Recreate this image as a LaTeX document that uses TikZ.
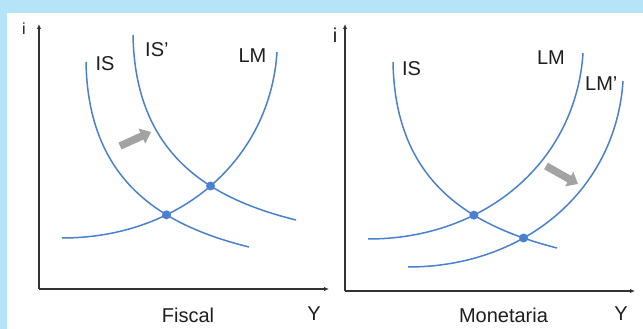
\documentclass[tikz,border=0pt]{standalone}
\usepackage{fontspec}
\setmainfont{Liberation Sans}
\usetikzlibrary{arrows.meta,intersections}
\definecolor{bgblue}{HTML}{B5E3F8}
\definecolor{curveblue}{HTML}{4A80D0}
\definecolor{axisgray}{HTML}{333333}
\definecolor{txt}{HTML}{1E1E1E}
\definecolor{shiftgray}{HTML}{A3A3A3}
\begin{document}
\begin{tikzpicture}[x=1pt,y=-1pt,
  curve/.style={draw=curveblue,line width=1.5pt},
  axis/.style={draw=axisgray,line width=1.5pt,-{Latex[length=5pt,width=4.5pt]}},
  lbl/.style={font=\fontsize{20}{22}\selectfont,text=txt,inner sep=0pt,anchor=base},
  lblw/.style={font=\fontsize{20}{22}\selectfont,text=txt,inner sep=0pt,anchor=base west},
  shiftarrow/.style={draw=shiftgray,line width=7.5pt,-{Triangle[width=16pt,length=10pt]}},
  eqdot/.style={fill=curveblue}]
\useasboundingbox (0,0) rectangle (643,329);
\fill[bgblue] (0,0) rectangle (643,329);
\fill[white] (7,13) rectangle (643,329);

% ---------- left panel: Fiscal ----------
\coordinate (oL) at (39,289);
\coordinate (iLtop) at (39,24);
\coordinate (yLend) at (329,289);
\draw[axis] (oL) -- (iLtop);
\draw[axis] (oL) -- (yLend);
\node[lbl,font=\fontsize{16}{18}\selectfont] (iL) at (24,35) {i};
\node[lbl] (YL) at (314,320) {Y};
\node[lbl] (fiscal) at (188,322) {Fiscal};

\path[curve,name path=isL] (86,62) .. controls (88,180) and (160,225) .. (249,247);
\path[curve,name path=ispL] (133,35) .. controls (135,153) and (207,198) .. (296,220);
\path[curve,name path=lmL] (62,238) .. controls (180,238) and (270,160) .. (277,52);
\fill[eqdot,name intersections={of=isL and lmL}] (intersection-1) circle (4.5pt);
\fill[eqdot,name intersections={of=ispL and lmL}] (intersection-1) circle (4.5pt);

\node[lbl] (isLlbl) at (105,70.5) {IS};
\node[lblw] (ispLlbl) at (145,56.5) {IS’};
\node[lbl] (lmLlbl) at (252.5,62.5) {LM};

\coordinate (aLs) at (120,146);
\coordinate (aLe) at (151,132);
\draw[shiftarrow] (aLs) -- (aLe);

% ---------- right panel: Monetaria ----------
\coordinate (oR) at (345,291);
\coordinate (iRtop) at (345,24);
\coordinate (yRend) at (635,291);
\draw[axis] (oR) -- (iRtop);
\draw[axis] (oR) -- (yRend);
\node[lbl] (iR) at (335,43) {i};
\node[lbl] (YR) at (621,320) {Y};
\node[lbl] (monetaria) at (503.5,322) {Monetaria};

\path[curve,name path=isR] (393,62) .. controls (395,180) and (467,225) .. (557,248);
\path[curve,name path=lmR] (368,239) .. controls (486,239) and (576,161) .. (583,53);
\path[curve,name path=lmpR] (408,267) .. controls (526,267) and (616,189) .. (623,81);
\fill[eqdot,name intersections={of=isR and lmR}] (intersection-1) circle (4.5pt);
\fill[eqdot,name intersections={of=isR and lmpR}] (intersection-1) circle (4.5pt);

\node[lbl] (isRlbl) at (411.5,76) {IS};
\node[lbl] (lmRlbl) at (551,65) {LM};
\node[lblw] (lmpRlbl) at (585,90.5) {LM’};

\coordinate (aRs) at (546,166);
\coordinate (aRe) at (578,184);
\draw[shiftarrow] (aRs) -- (aRe);
\end{tikzpicture}
\end{document}
